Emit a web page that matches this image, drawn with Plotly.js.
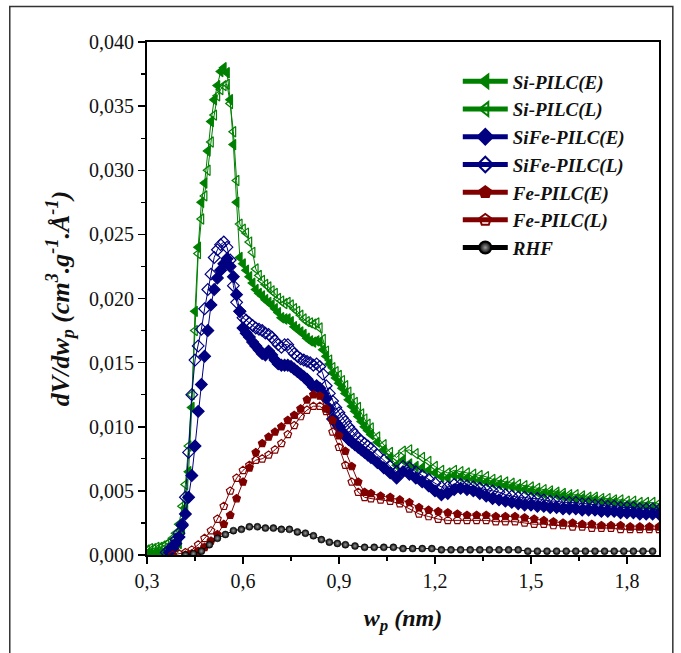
<!DOCTYPE html>
<html>
<head>
<meta charset="utf-8">
<script src="https://cdn.plot.ly/plotly-3.0.1.min.js"></script>
<style>
  html, body { margin: 0; padding: 0; background: #ffffff; }
  #chart { width: 681px; height: 653px; }
</style>
</head>
<body>
<div id="chart"></div>
<script>
// Pore width grid (nm) for the Si-PILC and SiFe-PILC distributions
const wpA = [
  0.30,0.31,0.32,0.33,0.34,0.35,0.36,0.37,0.38,0.39,
  0.40,0.41,0.42,0.43,0.44,0.45,0.46,0.47,0.48,0.49,
  0.50,0.51,0.52,0.53,0.54,0.55,0.56,0.57,0.58,0.59,
  0.60,0.61,0.62,0.63,0.64,0.65,0.66,0.67,0.68,0.69,
  0.70,0.71,0.72,0.73,0.74,0.75,0.76,0.77,0.78,0.79,
  0.80,0.81,0.82,0.83,0.84,0.85,0.86,0.87,0.88,0.89,
  0.90,0.91,0.92,0.93,0.94,0.95,0.96,0.97,0.98,0.99,
  1.00,1.02,1.04,1.06,1.08,1.10,1.12,1.14,1.16,1.18,
  1.20,1.22,1.24,1.26,1.28,1.30,1.32,1.34,1.36,1.38,
  1.40,1.42,1.44,1.46,1.48,1.50,1.52,1.54,1.56,1.58,
  1.60,1.62,1.64,1.66,1.68,1.70,1.72,1.74,1.76,1.78,
  1.80,1.82,1.84,1.86,1.88,1.90
];

// dV/dwp (cm3.g-1.A-1)
const siE = [
  0.0001,0.0001,0.0001,0.0002,0.0002,0.0002,0.0003,0.0003,0.0004,0.0006,
  0.0009,0.0020,0.0037,0.0065,0.0115,0.0190,0.0240,0.0275,0.0290,0.0315,
  0.0338,0.0355,0.0366,0.0377,0.0380,0.0376,0.0355,0.0320,0.0275,0.0232,
  0.0227,0.0222,0.0217,0.0212,0.0207,0.0204,0.0202,0.0199,0.0197,0.0195,
  0.0192,0.0189,0.0185,0.0184,0.0184,0.0182,0.0178,0.0176,0.0174,0.0172,
  0.0169,0.0167,0.0166,0.0167,0.0166,0.0160,0.0155,0.0149,0.0142,0.0138,
  0.0134,0.0130,0.0126,0.0121,0.0116,0.0112,0.0108,0.0104,0.0100,0.0097,
  0.0094,0.0088,0.0082,0.0076,0.0070,0.0074,0.0071,0.0069,0.0068,0.0066,
  0.0064,0.0061,0.0060,0.0062,0.0061,0.0060,0.0059,0.0058,0.0057,0.0056,
  0.0055,0.0054,0.0053,0.0052,0.0051,0.0050,0.0049,0.0048,0.0048,0.0047,
  0.0046,0.0045,0.0044,0.0044,0.0043,0.0043,0.0042,0.0041,0.0041,0.0040,
  0.0039,0.0039,0.0038,0.0038,0.0037,0.0037
];
const siL = [
  0.0004,0.0005,0.0005,0.0006,0.0006,0.0007,0.0008,0.0010,0.0013,0.0017,
  0.0024,0.0038,0.0055,0.0085,0.0125,0.0175,0.0235,0.0262,0.0280,0.0300,
  0.0322,0.0343,0.0358,0.0363,0.0366,0.0367,0.0352,0.0330,0.0292,0.0258,
  0.0254,0.0251,0.0244,0.0236,0.0223,0.0218,0.0214,0.0211,0.0209,0.0206,
  0.0204,0.0200,0.0198,0.0196,0.0197,0.0195,0.0192,0.0190,0.0187,0.0184,
  0.0182,0.0181,0.0180,0.0181,0.0177,0.0168,0.0159,0.0152,0.0146,0.0143,
  0.0140,0.0136,0.0132,0.0127,0.0122,0.0119,0.0115,0.0110,0.0106,0.0102,
  0.0099,0.0092,0.0086,0.0080,0.0076,0.0081,0.0082,0.0079,0.0076,0.0073,
  0.0069,0.0066,0.0064,0.0066,0.0065,0.0064,0.0063,0.0062,0.0061,0.0059,
  0.0058,0.0057,0.0056,0.0055,0.0054,0.0053,0.0052,0.0051,0.0050,0.0049,
  0.0048,0.0047,0.0047,0.0046,0.0045,0.0045,0.0044,0.0044,0.0043,0.0043,
  0.0042,0.0042,0.0041,0.0041,0.0041,0.0040
];
const siFeE = [
  null,null,null,null,null,null,null,0.0002,0.0005,0.0009,
  0.0014,0.0023,0.0032,0.0045,0.0062,0.0085,0.0112,0.0133,0.0155,0.0175,
  0.0195,0.0207,0.0216,0.0222,0.0227,0.0231,0.0225,0.0217,0.0203,0.0190,
  0.0177,0.0173,0.0170,0.0166,0.0163,0.0160,0.0157,0.0156,0.0159,0.0156,
  0.0152,0.0149,0.0148,0.0148,0.0148,0.0147,0.0145,0.0143,0.0141,0.0139,
  0.0137,0.0134,0.0131,0.0132,0.0130,0.0126,0.0122,0.0114,0.0106,0.0103,
  0.0100,0.0096,0.0093,0.0090,0.0088,0.0086,0.0084,0.0082,0.0080,0.0078,
  0.0076,0.0072,0.0068,0.0064,0.0060,0.0065,0.0063,0.0060,0.0057,0.0054,
  0.0050,0.0047,0.0048,0.0051,0.0052,0.0051,0.0050,0.0048,0.0046,0.0044,
  0.0043,0.0042,0.0041,0.0040,0.0039,0.0039,0.0038,0.0038,0.0037,0.0037,
  0.0036,0.0036,0.0036,0.0035,0.0035,0.0035,0.0034,0.0034,0.0034,0.0033,
  0.0033,0.0033,0.0032,0.0032,0.0032,0.0032
];
const siFeL = [
  null,null,null,null,null,null,0.0002,0.0004,0.0007,0.0012,
  0.0017,0.0024,0.0045,0.0080,0.0125,0.0152,0.0163,0.0176,0.0192,0.0207,
  0.0219,0.0232,0.0238,0.0242,0.0244,0.0240,0.0230,0.0210,0.0197,0.0190,
  0.0185,0.0183,0.0181,0.0179,0.0177,0.0176,0.0175,0.0173,0.0172,0.0170,
  0.0167,0.0164,0.0162,0.0164,0.0164,0.0160,0.0157,0.0155,0.0153,0.0152,
  0.0151,0.0150,0.0148,0.0149,0.0147,0.0141,0.0132,0.0126,0.0120,0.0115,
  0.0111,0.0107,0.0104,0.0100,0.0097,0.0094,0.0091,0.0089,0.0087,0.0085,
  0.0083,0.0078,0.0074,0.0069,0.0065,0.0069,0.0068,0.0065,0.0062,0.0059,
  0.0056,0.0053,0.0053,0.0055,0.0055,0.0054,0.0053,0.0052,0.0051,0.0050,
  0.0049,0.0047,0.0046,0.0045,0.0045,0.0044,0.0044,0.0043,0.0042,0.0042,
  0.0041,0.0041,0.0041,0.0040,0.0040,0.0039,0.0039,0.0038,0.0038,0.0037,
  0.0037,0.0037,0.0036,0.0036,0.0036,0.0035
];

// Pore width grid (nm) for the Fe-PILC distributions
const wpB = [
  0.36,0.38,0.40,0.42,0.44,0.46,0.48,0.50,0.52,0.54,
  0.56,0.58,0.60,0.62,0.64,0.66,0.68,0.70,0.72,0.74,
  0.76,0.78,0.80,0.82,0.84,0.86,0.88,0.90,0.92,0.94,
  0.96,0.98,1.00,1.03,1.06,1.09,1.12,1.15,1.18,1.21,
  1.24,1.27,1.30,1.33,1.36,1.39,1.42,1.45,1.48,1.51,
  1.54,1.57,1.60,1.63,1.66,1.69,1.72,1.75,1.78,1.81,
  1.84,1.87,1.90
];
const feE = [
  null,null,null,0.0000,0.0001,0.0003,0.0006,0.0011,0.0016,0.0024,
  0.0031,0.0044,0.0057,0.0068,0.0080,0.0087,0.0092,0.0096,0.0100,0.0105,
  0.0109,0.0114,0.0121,0.0125,0.0124,0.0114,0.0105,0.0093,0.0081,0.0069,
  0.0057,0.0049,0.0048,0.0046,0.0045,0.0043,0.0041,0.0037,0.0035,0.0034,
  0.0033,0.0032,0.0031,0.0031,0.0031,0.0030,0.0030,0.0030,0.0029,0.0028,
  0.0027,0.0026,0.0025,0.0025,0.0024,0.0024,0.0023,0.0023,0.0023,0.0022,
  0.0022,0.0022,0.0022
];
const feL = [
  null,0.0000,0.0001,0.0002,0.0004,0.0008,0.0013,0.0019,0.0028,0.0038,
  0.0050,0.0060,0.0066,0.0070,0.0074,0.0075,0.0078,0.0082,0.0087,0.0094,
  0.0101,0.0108,0.0113,0.0116,0.0116,0.0112,0.0096,0.0084,0.0070,0.0057,
  0.0049,0.0045,0.0044,0.0043,0.0042,0.0040,0.0036,0.0032,0.0030,0.0028,
  0.0027,0.0027,0.0027,0.0027,0.0027,0.0026,0.0026,0.0026,0.0025,0.0024,
  0.0024,0.0023,0.0023,0.0022,0.0022,0.0021,0.0021,0.0021,0.0020,0.0020,
  0.0020,0.0020,0.0020
];

// Pore width grid (nm) for the raw clay (RHF)
const wpR = [
  0.42,0.445,0.47,0.495,0.52,0.545,0.57,0.595,0.62,0.645,
  0.67,0.695,0.72,0.745,0.77,0.795,0.82,0.845,0.87,0.895,
  0.92,0.95,0.98,1.01,1.04,1.07,1.10,1.13,1.16,1.19,
  1.22,1.25,1.28,1.31,1.34,1.37,1.40,1.43,1.46,1.49,
  1.52,1.55,1.58,1.61,1.64,1.67,1.70,1.73,1.76,1.79,
  1.82,1.85,1.88
];
const rhf = [
  0.0000,0.0001,0.0003,0.0008,0.0013,0.0016,0.0019,0.0020,0.0022,0.0022,
  0.0021,0.0021,0.0020,0.0020,0.0018,0.0017,0.0015,0.0012,0.0010,0.0009,
  0.0008,0.0007,0.0006,0.0006,0.0006,0.0006,0.0005,0.0005,0.0005,0.0005,
  0.0004,0.0004,0.0004,0.0004,0.0004,0.0004,0.0004,0.0004,0.0004,0.0003,
  0.0003,0.0003,0.0003,0.0003,0.0003,0.0003,0.0003,0.0003,0.0003,0.0003,
  0.0003,0.0003,0.0003
];

const seriesNames = ['Si-PILC(E)', 'Si-PILC(L)', 'SiFe-PILC(E)', 'SiFe-PILC(L)', 'Fe-PILC(E)', 'Fe-PILC(L)', 'RHF'];
const xTickVals = [0.3, 0.6, 0.9, 1.2, 1.5, 1.8];

const GREEN = '#008000';
const NAVY = '#000080';
const MAROON = '#800000';
const SERIF = '"Liberation Serif", "Times New Roman", serif';

function series(name, x, y, color, symbol, size, extraMarker) {
  return {
    type: 'scatter',
    mode: 'lines+markers',
    name: name,
    x: x,
    y: y,
    line: { color: color, width: 1 },
    marker: Object.assign({
      symbol: symbol,
      size: size,
      color: color,
      line: { color: color, width: 1.2 }
    }, extraMarker || {})
  };
}

const traces = [
  series(seriesNames[0], wpA, siE, GREEN, 'triangle-left', 9),
  series(seriesNames[1], wpA, siL, GREEN, 'triangle-left-open', 9),
  series(seriesNames[2], wpA, siFeE, NAVY, 'diamond', 9),
  series(seriesNames[3], wpA, siFeL, NAVY, 'diamond-open', 9),
  series(seriesNames[4], wpB, feE, MAROON, 'pentagon', 8),
  series(seriesNames[5], wpB, feL, MAROON, 'pentagon-open', 8),
  series(seriesNames[6], wpR, rhf, '#000000', 'circle', 7,
         { gradient: { type: 'radial', color: '#9a9a9a' }, line: { color: '#000', width: 0.5 } })
];

const layout = {
  width: 681,
  height: 653,
  autosize: false,
  paper_bgcolor: '#ffffff',
  plot_bgcolor: '#ffffff',
  separators: ', ',
  margin: { l: 147, r: 22, t: 42, b: 98 },
  font: { family: SERIF, color: '#111111', size: 20 },
  showlegend: true,
  legend: {
    x: 0.607, y: 0.96, xanchor: 'left', yanchor: 'top',
    bgcolor: 'rgba(0,0,0,0)',
    borderwidth: 0,
    itemsizing: 'constant',
    itemwidth: 45,
    tracegroupgap: 0,
    font: { family: SERIF, size: 19, color: '#111111', weight: 'bold', style: 'italic' }
  },
  xaxis: {
    range: [0.3, 1.9],
    tickvals: xTickVals,
    tickformat: '.1f',
    showgrid: false,
    zeroline: false,
    showline: true,
    linecolor: '#000000',
    linewidth: 2,
    mirror: true,
    ticks: 'outside',
    ticklen: 7,
    tickwidth: 1.5,
    tickcolor: '#000000',
    minor: { dtick: 0.15, tick0: 0.3, ticks: 'outside', ticklen: 4, tickwidth: 1.2, tickcolor: '#000000' },
    tickfont: { family: SERIF, size: 20, color: '#111111' },
    title: {
      text: 'w<sub>p</sub> (nm)',
      standoff: 18,
      font: { family: SERIF, size: 24, color: '#111111', weight: 'bold', style: 'italic' }
    }
  },
  yaxis: {
    range: [0, 0.040],
    dtick: 0.005,
    tick0: 0,
    tickformat: '.3f',
    showgrid: false,
    zeroline: false,
    showline: true,
    linecolor: '#000000',
    linewidth: 2,
    mirror: true,
    ticks: 'outside',
    ticklen: 7,
    tickwidth: 1.5,
    tickcolor: '#000000',
    minor: { dtick: 0.0025, ticks: 'outside', ticklen: 4, tickwidth: 1.2, tickcolor: '#000000' },
    tickfont: { family: SERIF, size: 20, color: '#111111' },
    title: {
      text: 'dV/dw<sub>p</sub> (cm<sup>3</sup>.g<sup>-1</sup>.Å<sup>-1</sup>)',
      standoff: 12,
      font: { family: SERIF, size: 26, color: '#111111', weight: 'bold', style: 'italic' }
    }
  },
  shapes: [{
    type: 'rect', xref: 'paper', yref: 'paper',
    x0: -0.268, x1: 1.027, y0: -0.21, y1: 1.069,
    line: { color: '#333333', width: 1.5 },
    fillcolor: 'rgba(0,0,0,0)',
    layer: 'below'
  }]
};

Plotly.newPlot('chart', traces, layout, { staticPlot: true, displayModeBar: false });
</script>
</body>
</html>
